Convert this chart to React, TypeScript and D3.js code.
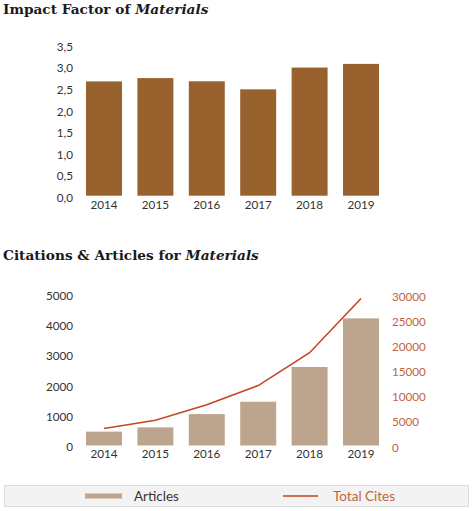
import React from 'react';
import { scaleBand, scaleLinear, line, range } from 'd3';

const years = ['2014', '2015', '2016', '2017', '2018', '2019'];
const impactFactor = [2.651, 2.728, 2.654, 2.467, 2.972, 3.057];
const articles = [460, 600, 1040, 1450, 2600, 4210];
const totalCites = [3370, 5030, 8100, 11900, 18430, 29200];

const ifTicks = range(0, 3.51, 0.5);
const artTicks = [0, 1000, 2000, 3000, 4000, 5000];
const citeTicks = [0, 5000, 10000, 15000, 20000, 25000, 30000];

const W = 474;
const H = 511;
const TITLE_FONT = '"DejaVu Serif", serif';
const LABEL_FONT = 'Lato, "Open Sans", sans-serif';
const TICK_SIZE = 11.7;
const DARK = '#333333';
const BROWN = '#98622f';
const TAN = '#bca58c';
const RED = '#c4461e';
const RED_TEXT = '#c2643c';

const x = scaleBand<string>().domain(years).range([78.3, 386.7]).paddingInner(0.3).paddingOuter(0.15);

const Title: React.FC<{ y: number; plain: string; italic: string }> = ({ y, plain, italic }) => (
  <text x={3} y={y} fontFamily={TITLE_FONT} fontWeight="bold" fontSize={13.7} fill="#1a1a1a">
    {plain}
    <tspan fontStyle="italic">{italic}</tspan>
  </text>
);

const ImpactChart: React.FC = () => {
  const y = scaleLinear().domain([0, 3.5]).range([195.7, 44.8]);
  return (
    <g>
      <Title y={14} plain="Impact Factor of " italic="Materials" />
      {ifTicks.map(t => (
        <text key={t} x={73} y={y(t) + 2} dy="0.35em" textAnchor="end" fontFamily={LABEL_FONT} fontSize={TICK_SIZE} fill={DARK}>
          {t.toFixed(1).replace('.', ',')}
        </text>
      ))}
      {years.map((yr, i) => (
        <rect key={yr} x={x(yr)} y={y(impactFactor[i])} width={x.bandwidth()} height={y(0) - y(impactFactor[i])} fill={BROWN} />
      ))}
      {years.map(yr => (
        <text key={yr} x={(x(yr) || 0) + x.bandwidth() / 2} y={205} dy="0.35em" textAnchor="middle" fontFamily={LABEL_FONT} fontSize={TICK_SIZE} fill={DARK}>
          {yr}
        </text>
      ))}
    </g>
  );
};

const CitationsChart: React.FC = () => {
  const yL = scaleLinear().domain([0, 5000]).range([445.5, 294.5]);
  const yR = scaleLinear().domain([0, 30000]).range([445.5, 294.5]);
  const cx = (yr: string) => (x(yr) || 0) + x.bandwidth() / 2;
  const path = line<number>().x((_, i) => cx(years[i])).y(d => yR(d))(totalCites) || '';
  return (
    <g>
      <Title y={260} plain="Citations & Articles for " italic="Materials" />
      {artTicks.map(t => (
        <text key={t} x={73} y={yL(t) + 1.5} dy="0.35em" textAnchor="end" fontFamily={LABEL_FONT} fontSize={TICK_SIZE} fill={DARK}>
          {t}
        </text>
      ))}
      {citeTicks.map(t => (
        <text key={t} x={392} y={yR(t) + 2} dy="0.35em" textAnchor="start" fontFamily={LABEL_FONT} fontSize={TICK_SIZE} fill={RED_TEXT}>
          {t}
        </text>
      ))}
      {years.map((yr, i) => (
        <rect key={yr} x={x(yr)} y={yL(articles[i])} width={x.bandwidth()} height={yL(0) - yL(articles[i])} fill={TAN} />
      ))}
      <path d={path} fill="none" stroke={RED} strokeWidth={1.6} />
      {years.map(yr => (
        <text key={yr} x={cx(yr)} y={453.5} dy="0.35em" textAnchor="middle" fontFamily={LABEL_FONT} fontSize={TICK_SIZE} fill={DARK}>
          {yr}
        </text>
      ))}
      {/* legend */}
      <rect x={4.5} y={485.5} width={464} height={21} fill="#f3f3f3" stroke="#dddddd" />
      <rect x={85} y={493.5} width={37} height={5} fill={TAN} />
      <text x={134} y={496} dy="0.35em" fontFamily={LABEL_FONT} fontSize={13.5} fill={DARK}>Articles</text>
      <line x1={283} x2={318} y1={496} y2={496} stroke={RED} strokeWidth={1.6} />
      <text x={333} y={496} dy="0.35em" fontFamily={LABEL_FONT} fontSize={13.5} fill={RED_TEXT}>Total Cites</text>
    </g>
  );
};

export default function App() {
  return (
    <div style={{ position: 'absolute', left: 0, top: 0, width: W, height: H, background: '#fff' }}>
      <svg width={W} height={H} viewBox={`0 0 ${W} ${H}`} style={{ display: 'block' }}>
        <rect width={W} height={H} fill="#fff" />
        <ImpactChart />
        <CitationsChart />
      </svg>
    </div>
  );
}
